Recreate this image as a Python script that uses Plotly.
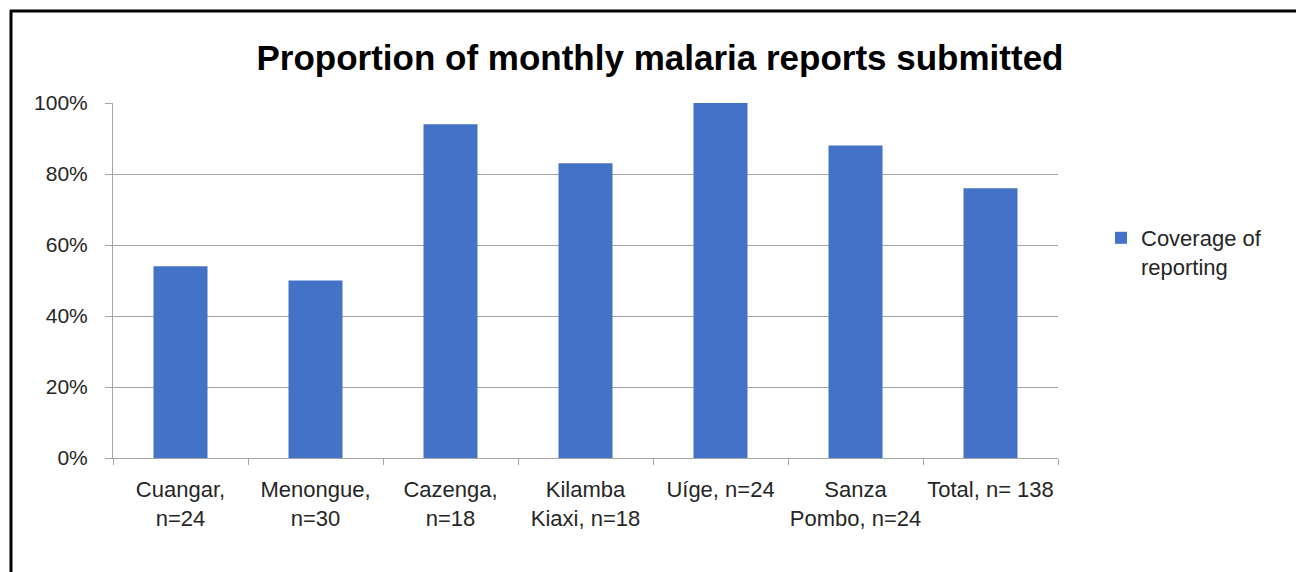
import plotly.graph_objects as go

# Reporting coverage by municipality
categories = [
    "Cuangar,<br>n=24",
    "Menongue,<br>n=30",
    "Cazenga,<br>n=18",
    "Kilamba<br>Kiaxi, n=18",
    "Uíge, n=24",
    "Sanza<br>Pombo, n=24",
    "Total, n= 138",
]
coverage = [54, 50, 94, 83, 100, 88, 76]
y_ticks = [0, 20, 40, 60, 80, 100]
y_tick_labels = ["0%", "20%", "40%", "60%", "80%", "100%"]

W, H = 1296, 572
M_L, M_R, M_T, M_B = 113, 238, 103, 114
PW, PH = W - M_L - M_R, H - M_T - M_B


def px_x(px):
    return (px - M_L) / PW


def px_y(py):
    return (H - M_B - py) / PH


FONT = "Liberation Sans, Arial, sans-serif"
GRID = "#a6a6a6"

fig = go.Figure()
fig.add_trace(go.Bar(
    x=categories,
    y=coverage,
    name="Coverage of<br>reporting",
    marker=dict(color="#4472c6", line=dict(width=0)),
))

fig.update_layout(
    width=W,
    height=H,
    paper_bgcolor="white",
    plot_bgcolor="white",
    margin=dict(l=M_L, r=M_R, t=M_T, b=M_B, autoexpand=False),
    bargap=0.6,
    font=dict(family=FONT, size=21, color="#262626"),
    title=dict(
        text="<b>Proportion of monthly malaria reports submitted</b>",
        font=dict(family=FONT, size=35, color="#000000"),
        xref="container", yref="container",
        x=660 / W, xanchor="center",
        y=1 - 58 / H, yanchor="middle",
    ),
    showlegend=True,
    legend=dict(
        x=px_x(1101), xanchor="left",
        y=px_y(217), yanchor="top",
        valign="top",
        font=dict(family=FONT, size=22, color="#262626"),
        bgcolor="rgba(0,0,0,0)",
    ),
    xaxis=dict(
        type="category",
        showline=True, linecolor=GRID, linewidth=1,
        ticks="outside", tickson="boundaries", ticklen=6, tickcolor=GRID,
        showgrid=False,
        tickangle=0,
        automargin=False,
        tickfont=dict(family=FONT, size=22, color="#262626"),
        ticklabelstandoff=12,
    ),
    yaxis=dict(
        range=[0, 100],
        tickvals=y_ticks,
        ticktext=y_tick_labels,
        showline=True, linecolor=GRID, linewidth=1,
        ticks="outside", ticklen=7, tickcolor=GRID,
        showgrid=True, gridcolor=GRID, gridwidth=1,
        zeroline=False,
        automargin=False,
        tickfont=dict(family=FONT, size=21, color="#262626"),
        ticklabelstandoff=13,
    ),
    shapes=[
        # frame: top and left edges
        dict(type="line", xref="paper", yref="paper",
             x0=px_x(10), x1=px_x(W + 2), y0=px_y(11), y1=px_y(11),
             line=dict(color="#000000", width=3)),
        dict(type="line", xref="paper", yref="paper",
             x0=px_x(11), x1=px_x(11), y0=px_y(10), y1=px_y(H + 2),
             line=dict(color="#000000", width=3)),
    ],
)

fig.write_html("out.html")
